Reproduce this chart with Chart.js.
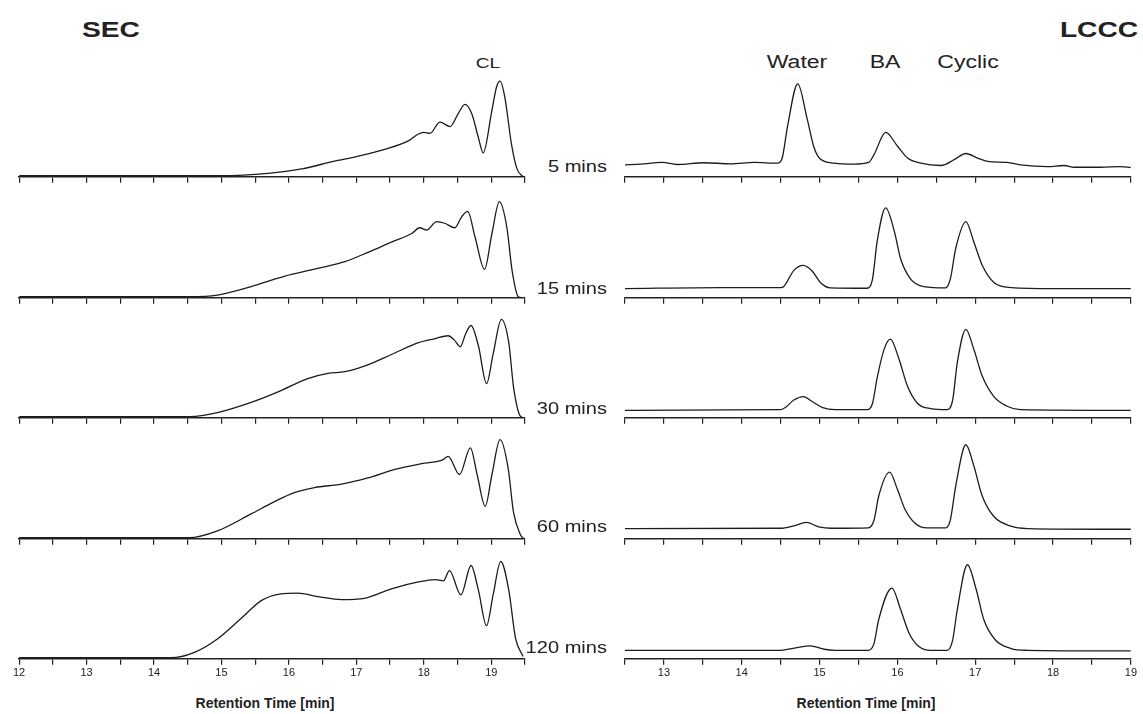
<!DOCTYPE html>
<html>
<head>
<meta charset="utf-8">
<script src="https://cdn.jsdelivr.net/npm/chart.js"></script>
<style>
  body { margin: 0; background: #fff; width: 1143px; height: 714px; position: relative; overflow: hidden;
         font-family: "Liberation Sans", Arial, sans-serif; color: #222; }
  .panel { position: absolute; }
  .lbl { position: absolute; white-space: nowrap; line-height: 1; }
  .c { transform: translate(-50%, -50%) scaleX(1.28); }
  .r { transform: translate(-100%, -50%) scaleX(1.18); transform-origin: 100% 50%; }
  .head { font-weight: bold; font-size: 22px; }
  .peak { font-size: 18px; }
  .row { font-size: 17px; }
  .axt { font-weight: bold; font-size: 14px; transform: translate(-50%, -50%); }
</style>
</head>
<body>

<div class="lbl c head" style="left:111px; top:30px;">SEC</div>
<div class="lbl c head" style="left:1099px; top:30px;">LCCC</div>
<div class="lbl c" style="left:488px; top:62px; font-size:15px;">CL</div>
<div class="lbl c peak" style="left:797px; top:62px;">Water</div>
<div class="lbl c peak" style="left:885px; top:62px;">BA</div>
<div class="lbl c peak" style="left:968px; top:62px;">Cyclic</div>
<div class="lbl axt" style="left:265px; top:703px;">Retention Time [min]</div>
<div class="lbl axt" style="left:866px; top:703px;">Retention Time [min]</div>

<script>
// sample names, one per row
const sampleLabels = ['5 mins', '15 mins', '30 mins', '60 mins', '120 mins'];

// SEC traces (retention time in min, detector signal)
const sec5X = [12, 14.5, 15.0, 15.69, 16.19, 16.66, 17.02, 17.42, 17.77, 17.92, 18.0, 18.09, 18.24, 18.39, 18.51, 18.61, 18.71, 18.81, 18.88, 19.01, 19.08, 19.13, 19.2, 19.3, 19.38, 19.47];
const sec5Y = [1, 1, 1, 3.3, 7.7, 15, 20, 26.7, 35, 41.7, 43.3, 42.3, 53.3, 49, 61.7, 70.7, 61.7, 38, 23.3, 65, 88, 93.3, 78, 31.7, 8, 0];

const sec15X = [12, 14.54, 14.94, 15.44, 15.93, 16.43, 16.83, 17.17, 17.52, 17.82, 17.94, 18.04, 18.19, 18.31, 18.46, 18.56, 18.65, 18.76, 18.9, 19.01, 19.12, 19.23, 19.31, 19.4, 19.46];
const sec15Y = [1, 1, 2.7, 11, 21, 28.7, 35.3, 44.3, 54.3, 62.7, 68.3, 66, 74.3, 72.7, 68.3, 79, 84.3, 59, 27.7, 62.7, 93.7, 69, 26, 1, 0];

const sec30X = [12, 14.54, 14.94, 15.44, 15.83, 16.28, 16.58, 16.83, 17.17, 17.52, 17.92, 18.17, 18.36, 18.45, 18.54, 18.62, 18.7, 18.81, 18.93, 19.03, 19.15, 19.26, 19.33, 19.43, 19.48];
const sec30Y = [1, 1, 5, 15, 25, 38.3, 43.3, 45, 51.7, 61.7, 73.3, 77.3, 80, 76, 69.3, 82, 90, 70, 33.3, 63, 96, 73, 30, 1.7, 0];

const sec60X = [12, 14.52, 14.94, 15.44, 15.78, 16.08, 16.38, 16.78, 17.17, 17.57, 17.97, 18.27, 18.36, 18.53, 18.69, 18.79, 18.91, 19.01, 19.13, 19.25, 19.33, 19.43, 19.48];
const sec60Y = [1, 1, 7.7, 24.3, 36, 45, 50, 53.3, 59.3, 67.7, 73.3, 76.7, 80.3, 62.7, 88.7, 62.7, 31.7, 62.7, 96.7, 69, 25.7, 4.3, 0];

const sec120X = [12, 14.25, 14.59, 14.94, 15.29, 15.59, 15.88, 16.13, 16.43, 16.78, 17.12, 17.52, 17.92, 18.17, 18.29, 18.38, 18.55, 18.7, 18.81, 18.93, 19.03, 19.14, 19.26, 19.36, 19.47];
const sec120Y = [1, 1, 6, 19.3, 39.3, 56.7, 63.3, 64, 60.7, 57.7, 59, 68.3, 75, 77.3, 76, 86, 62.3, 91, 66.7, 32.3, 63.3, 95, 66.7, 20, 2.3];

// LCCC traces
const lccc5X = [12.5, 12.7, 12.98, 13.17, 13.51, 13.86, 14.16, 14.46, 14.52, 14.59, 14.72, 14.84, 14.93, 15.01, 15.19, 15.44, 15.63, 15.7, 15.85, 16.0, 16.13, 16.3, 16.56, 16.73, 16.88, 17.03, 17.16, 17.41, 17.58, 17.93, 18.14, 18.27, 18.61, 18.87, 19.0];
const lccc5Y = [11.7, 12.3, 14, 12, 13.7, 12.7, 14, 13.3, 18.3, 50, 90.7, 56.7, 28.3, 17.3, 13.3, 12.3, 14, 21.7, 43.3, 30, 18.3, 13.3, 11, 16.7, 22.7, 18.3, 15, 14, 11.7, 10, 11, 9.3, 9.3, 10, 9];

const lccc15X = [12.5, 13.73, 14.5, 14.54, 14.67, 14.79, 14.91, 15.01, 15.14, 15.61, 15.68, 15.74, 15.85, 15.96, 16.04, 16.17, 16.34, 16.62, 16.68, 16.75, 16.88, 16.98, 17.09, 17.24, 17.46, 18.01, 19];
const lccc15Y = [9, 10, 10, 11, 26.7, 31.7, 25.7, 15, 9.7, 9.3, 18.3, 55, 87.7, 65, 38.3, 18.3, 11, 9.7, 18.3, 48.3, 74.3, 55, 31.7, 15, 10, 9, 9];

const lccc30X = [12.5, 14.5, 14.56, 14.67, 14.79, 14.91, 15.04, 15.2, 15.61, 15.68, 15.74, 15.83, 15.91, 16.02, 16.13, 16.26, 16.43, 16.64, 16.71, 16.77, 16.88, 16.98, 17.09, 17.24, 17.41, 17.58, 19];
const lccc30Y = [7.3, 8, 10, 17.3, 20.7, 15.7, 10, 8, 8, 14, 39, 67, 76.7, 57.3, 30.7, 14, 9, 8, 17.3, 54, 86.3, 67.3, 40.7, 20.7, 11.3, 8, 7.3];

const lccc60X = [12.5, 14.5, 14.67, 14.83, 14.99, 15.15, 15.63, 15.7, 15.76, 15.9, 16.0, 16.1, 16.23, 16.38, 16.62, 16.68, 16.75, 16.88, 16.98, 17.09, 17.24, 17.46, 17.67, 19];
const lccc60Y = [10, 10.3, 12.7, 16, 11.7, 10.3, 10.7, 18.3, 41.7, 65, 48.3, 28.3, 15, 10.7, 10.7, 18.3, 51.7, 91.7, 71.7, 41.7, 21.7, 12.3, 10, 9.3];

const lccc120X = [12.5, 14.5, 14.69, 14.88, 15.06, 15.2, 15.63, 15.7, 15.76, 15.93, 16.04, 16.15, 16.28, 16.43, 16.64, 16.71, 16.77, 16.9, 17.01, 17.11, 17.26, 17.46, 17.67, 19];
const lccc120Y = [8.3, 8.3, 10.7, 12.7, 9.3, 8.3, 8.3, 15, 38.3, 69, 48.3, 25, 11.7, 8.3, 8.3, 18.3, 48.3, 91.7, 68.3, 38.3, 18.3, 10, 8.3, 7.7];

const secTraces = [[sec5X, sec5Y], [sec15X, sec15Y], [sec30X, sec30Y], [sec60X, sec60Y], [sec120X, sec120Y]];
const lcccTraces = [[lccc5X, lccc5Y], [lccc15X, lccc15Y], [lccc30X, lccc30Y], [lccc60X, lccc60Y], [lccc120X, lccc120Y]];

// where each row's x axis line sits on the page
const axisRows = [176, 297, 417, 538, 658];
const labelRows = [166, 288, 408, 526, 647];
const plotHeight = 110;

function addPanel(left, width, axisY, xs, ys, xMin, xMax, showTicks) {
    const box = document.createElement('div');
    box.className = 'panel';
    box.style.left = left + 'px';
    box.style.top = (axisY - plotHeight - 2) + 'px';
    const canvas = document.createElement('canvas');
    canvas.width = width;
    canvas.height = plotHeight + 26;
    box.appendChild(canvas);
    document.body.appendChild(box);

    new Chart(canvas, {
        type: 'line',
        data: {
            datasets: [{
                data: xs.map((x, i) => ({ x: x, y: ys[i] })),
                borderColor: '#1c1c1c',
                borderWidth: 1.3,
                pointRadius: 0,
                fill: false,
                cubicInterpolationMode: 'monotone'
            }]
        },
        options: {
            responsive: false,
            animation: false,
            layout: { padding: 0 },
            plugins: { legend: { display: false }, tooltip: { enabled: false } },
            scales: {
                x: {
                    type: 'linear',
                    min: xMin,
                    max: xMax,
                    border: { display: true, color: '#222', width: 1.5 },
                    grid: { drawOnChartArea: false, drawTicks: true, tickLength: 6, color: '#222', lineWidth: 1.2 },
                    ticks: {
                        stepSize: 0.5,
                        autoSkip: false,
                        maxRotation: 0,
                        padding: 2,
                        color: showTicks ? '#222' : 'rgba(0,0,0,0)',
                        font: { family: '"Liberation Sans", Arial, sans-serif', size: 11 },
                        callback: v => Math.abs(v - Math.round(v)) < 1e-6 ? Math.round(v) : ''
                    }
                },
                y: { display: false, min: 0, max: plotHeight }
            }
        }
    });
}

secTraces.forEach((t, i) => addPanel(11, 516, axisRows[i], t[0], t[1], 12, 19.5, i === 4));
lcccTraces.forEach((t, i) => addPanel(623, 516, axisRows[i], t[0], t[1], 12.5, 19, i === 4));

sampleLabels.forEach((s, i) => {
    const d = document.createElement('div');
    d.className = 'lbl r row';
    d.style.left = '607px';
    d.style.top = labelRows[i] + 'px';
    d.textContent = s;
    document.body.appendChild(d);
});
</script>
</body>
</html>
